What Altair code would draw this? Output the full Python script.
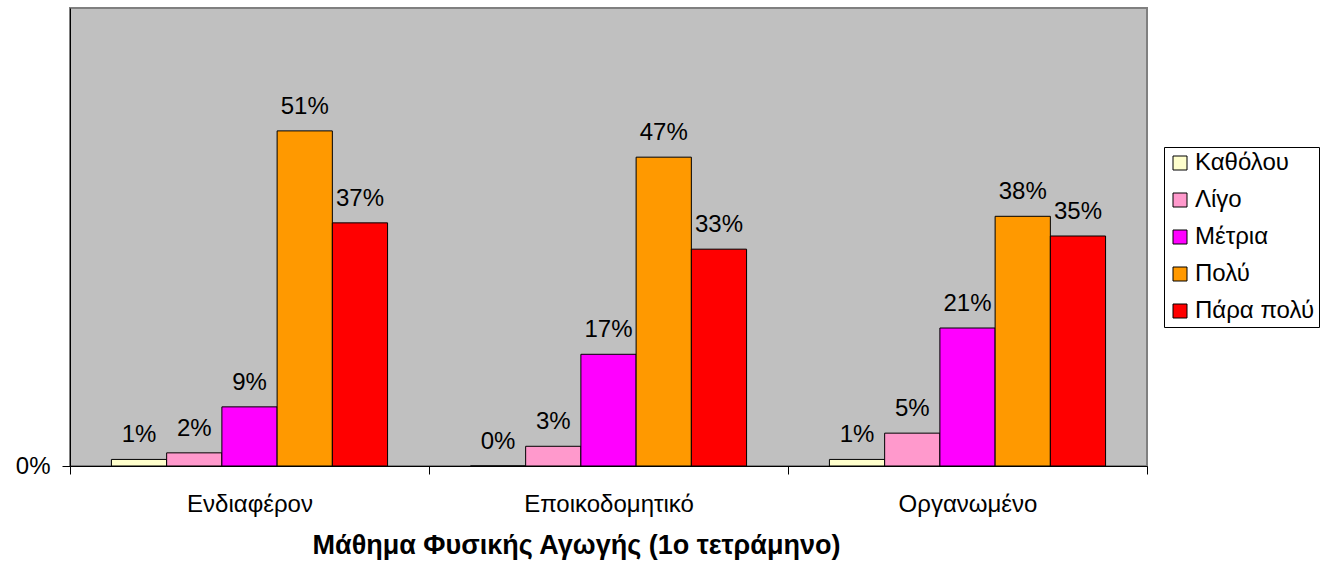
import altair as alt
import pandas as pd

categories = ["Ενδιαφέρον", "Εποικοδομητικό", "Οργανωμένο"]
series = ["Καθόλου", "Λίγο", "Μέτρια", "Πολύ", "Πάρα πολύ"]
colors = ["#FFFFCC", "#FF99CC", "#FF00FF", "#FF9900", "#FF0000"]
values = {
    "Καθόλου":   [0.01, 0.00, 0.01],
    "Λίγο":      [0.02, 0.03, 0.05],
    "Μέτρια":    [0.09, 0.17, 0.21],
    "Πολύ":      [0.51, 0.47, 0.38],
    "Πάρα πολύ": [0.37, 0.33, 0.35],
}
x_title = "Μάθημα Φυσικής Αγωγής (1ο τετράμηνο)"

rows = []
for s in series:
    for c, v in zip(categories, values[s]):
        rows.append({"cat": c, "series": s, "value": v})
df = pd.DataFrame(rows)

FONT = "Liberation Sans"
W, H = 1077, 458

x = alt.X("cat:N", sort=categories, title=x_title,
          scale=alt.Scale(paddingInner=0, paddingOuter=0),
          axis=alt.Axis(labelAngle=0, labelFontSize=24, labelFont=FONT, labelColor="black",
                        labelPadding=18, tickBand="extent", tickSize=8, tickColor="black",
                        domainColor="black", titleFontSize=27, titleFont=FONT,
                        titleFontWeight="bold", titleColor="black", titlePadding=16,
                        titleX=506, titleAlign="center"))
xo = alt.XOffset("series:N", sort=series,
                 scale=alt.Scale(paddingInner=0, paddingOuter=0.75))
y = alt.Y("value:Q", title=None,
          scale=alt.Scale(domain=[0, 0.697], nice=False, zero=True),
          axis=alt.Axis(values=[0], format=".0%", labelFontSize=24, labelFont=FONT,
                        labelColor="black", tickSize=8, tickColor="black",
                        domainColor="black", grid=False, labelPadding=12))

bars = alt.Chart(df).mark_bar(stroke="black", strokeWidth=1).encode(
    x=x, xOffset=xo, y=y,
    color=alt.Color("series:N", sort=series, title=None,
                    scale=alt.Scale(domain=series, range=colors),
                    legend=alt.Legend(orient="none", legendX=1094, legendY=139,
                                      labelFontSize=24, labelFont=FONT, labelColor="black",
                                      symbolType="square", symbolSize=196,
                                      symbolStrokeColor="black", symbolStrokeWidth=1,
                                      symbolOpacity=1, rowPadding=13, padding=4,
                                      strokeColor="black", labelOffset=3)),
)

labels = alt.Chart(df).mark_text(dy=-17, baseline="alphabetic", fontSize=24,
                                 font=FONT, color="black").encode(
    x=x, xOffset=xo, y=y,
    text=alt.Text("value:Q", format=".0%"),
)

chart = alt.layer(bars, labels).properties(
    width=W, height=H,
    padding={"left": 70, "top": 8, "right": 175, "bottom": 101},
    autosize=alt.AutoSizeParams(type="none"),
).configure(background="white").configure_view(
    fill="#C0C0C0", stroke="#808080", strokeWidth=2)

chart.save("out.html", embed_options={"renderer": "svg", "actions": False})
